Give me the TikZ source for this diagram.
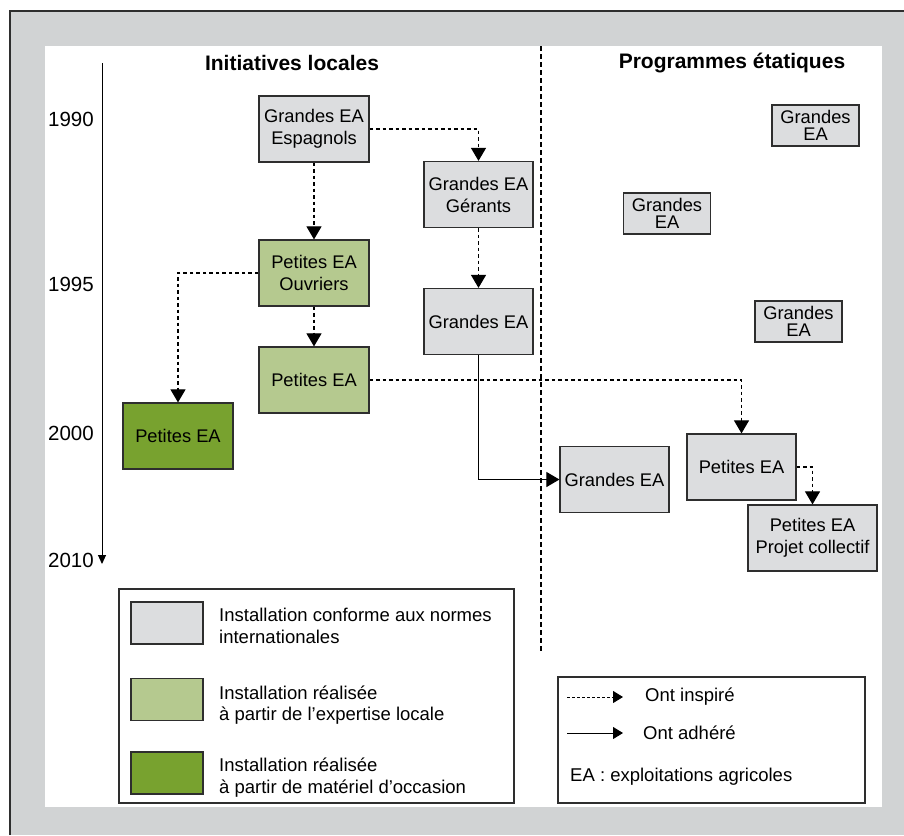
\documentclass[tikz,border=0pt]{standalone}
\usepackage{fontspec}
\setmainfont{Liberation Sans}
\usetikzlibrary{positioning,arrows.meta,backgrounds}

\definecolor{cadre}{HTML}{D1D3D4}
\definecolor{gris}{HTML}{DCDDDF}
\definecolor{vertclair}{HTML}{B5C98F}
\definecolor{vertfonce}{HTML}{78A22F}
\definecolor{trait}{HTML}{2E2E2E}

\begin{document}
\begin{tikzpicture}[x=1pt,y=-1pt,node distance=144pt,on grid,
    ea/.style={draw=trait,line width=1.2pt,minimum width=110pt,minimum height=66pt,
      inner sep=2pt,align=center,font=\fontsize{18.3}{22}\selectfont},
    conforme/.style={ea,fill=gris},
    locale/.style={ea,fill=vertclair},
    occasion/.style={ea,fill=vertfonce},
    petitbloc/.style={draw=trait,line width=1.2pt,fill=gris,minimum width=87pt,
      minimum height=41pt,inner sep=1pt,align=center,font=\fontsize{18.3}{17.5}\selectfont},
    inspire/.style={dash pattern=on 3.5pt off 3pt,line width=1.1pt,
      -{Triangle[width=15pt,length=13pt]}},
    adhere/.style={line width=1.1pt,-{Triangle[width=15pt,length=13pt]}},
    annee/.style={anchor=east,inner sep=0pt,font=\fontsize{20.5}{24}\selectfont},
    titre/.style={font=\fontsize{21}{25}\selectfont\bfseries},
    legtxt/.style={anchor=west,inner sep=0pt,align=left,font=\fontsize{18.5}{21.5}\selectfont},
    swatch/.style={draw=trait,line width=1.2pt,minimum width=72pt,minimum height=42pt,inner sep=0pt}]
    \useasboundingbox (0,0) rectangle (904,835);
    % fond
    \fill[cadre] (10,11) rectangle (904,835);
    \draw[trait,line width=1.2pt] (10,835) -- (10,11) -- (904,11);
    \fill[white] (45,46) rectangle (882,807);

    \node[titre] (t_loc) at (292,63) {Initiatives locales};
    \node[titre] (t_etat) at (732,63) {Programmes étatiques};

    % axe du temps
    \coordinate (t_haut) at (102,63);
    \coordinate (t_bas) at (102,564);
    \draw[line width=1pt,-{Triangle[width=8pt,length=9pt]}] (t_haut) -- (t_bas);
    \node[annee] (a_1990) at (94,119) {1990};
    \node[annee] (a_1995) at (94,284) {1995};
    \node[annee] (a_2000) at (94,433) {2000};
    \node[annee] (a_2010) at (94,560) {2010};

    % separation
    \coordinate (sep_haut) at (541,46);
    \coordinate (sep_bas) at (541,653);
    \draw[line width=2.2pt,dash pattern=on 5pt off 3pt] (sep_haut) -- (sep_bas);

    % initiatives locales
    \node[conforme] (g_esp) at (314,129) {Grandes EA\\Espagnols};
    \node[locale] (p_ouv) [below=144pt of g_esp] {Petites EA\\Ouvriers};
    \node[locale] (p_loc) [below=107pt of p_ouv] {Petites EA};
    \node[occasion] (p_occ) at (178,436) {Petites EA};
    \node[conforme,minimum width=109pt] (g_ger) at (478.5,194.5) {Grandes EA\\Gérants};
    \node[conforme,minimum width=109pt] (g_loc) [below=127pt of g_ger] {Grandes EA};

    % programmes etatiques
    \node[petitbloc] (g_s1) at (815.5,125.5) {Grandes\\EA};
    \node[petitbloc] (g_s2) at (667,213.5) {Grandes\\EA};
    \node[petitbloc] (g_s3) at (798.5,321.5) {Grandes\\EA};
    \node[conforme,minimum width=109pt] (g_etat) at (614.5,479.5) {Grandes EA};
    \node[conforme,minimum width=109pt] (p_etat) at (741.5,467) {Petites EA};
    \node[conforme,minimum width=129pt] (p_coll) at (812.5,538) {Petites EA\\Projet collectif};

    \draw[inspire] (g_esp.east) -| (g_ger.north);
    \draw[inspire] (g_esp.south) -- (p_ouv.north);
    \draw[inspire] (p_ouv.west) -| (p_occ.north);
    \draw[inspire] (p_ouv.south) -- (p_loc.north);
    \draw[inspire] (g_ger.south) -- (g_loc.north);
    \draw[inspire] (p_loc.east) -| (p_etat.north);
    \draw[inspire] (p_etat.east) -| (p_coll.north);
    \draw[adhere] (g_loc.south) |- (g_etat.west);

    % legende des couleurs
    \node[draw=trait,line width=1.2pt,minimum width=395pt,minimum height=214pt,inner sep=0pt]
      (leg_couleurs) at (316.5,696) {};
    \node[swatch,fill=gris] (c_gris) at (167,623) {};
    \node[swatch,fill=vertclair] (c_clair) at (167,699.5) {};
    \node[swatch,fill=vertfonce] (c_fonce) at (167,773) {};
    \node[legtxt] (l_gris) at (219,626) {Installation conforme aux normes\\internationales};
    \node[legtxt] (l_clair) at (219,705) {Installation réalisée\\à partir de l’expertise locale};
    \node[legtxt] (l_fonce) at (219,777.5) {Installation réalisée\\à partir de matériel d’occasion};

    % legende des fleches
    \node[draw=trait,line width=1.2pt,minimum width=307pt,minimum height=126pt,inner sep=0pt]
      (leg_fleches) at (711.5,740) {};
    \coordinate (f_insp) at (567,697);
    \coordinate (f_adh) at (567,733);
    \node[legtxt] (l_insp) at (645,697) {Ont inspiré};
    \node[legtxt] (l_adh) at (643,733) {Ont adhéré};
    \node[legtxt] (l_ea) at (570,777) {EA : exploitations agricoles};
    \draw[dash pattern=on 2.5pt off 2.5pt,line width=1pt,-{Triangle[width=12pt,length=10pt]}]
      (f_insp) -- ([xshift=-22pt]l_insp.west);
    \draw[line width=1pt,-{Triangle[width=12pt,length=10pt]}]
      (f_adh) -- ([xshift=-20pt]l_adh.west);
\end{tikzpicture}
\end{document}
